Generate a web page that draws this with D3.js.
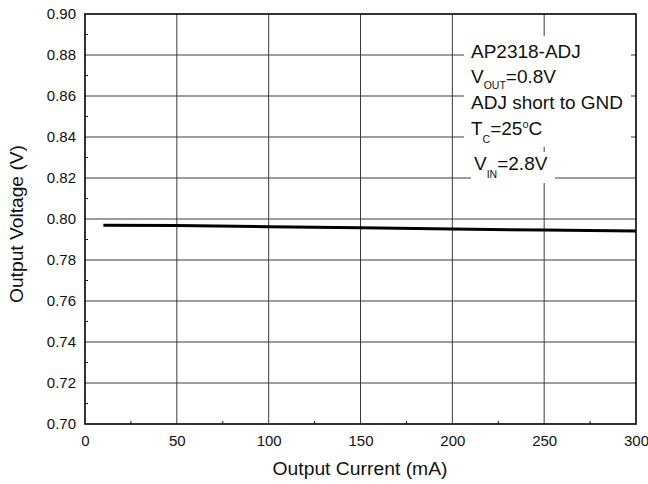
<!DOCTYPE html>
<html>
<head>
<meta charset="utf-8">
<script src="https://cdn.jsdelivr.net/npm/d3@7"></script>
<style>
  html, body { margin: 0; padding: 0; background: #fff; }
  svg { display: block; font-family: "Liberation Sans", Arial, sans-serif; }
</style>
</head>
<body>
<svg id="chart" width="648" height="484"></svg>
<script>
// Output voltage vs load current
const currentMA = [10, 50, 100, 150, 200, 250, 300];
const outputV   = [0.7969, 0.7968, 0.7962, 0.7957, 0.7951, 0.7946, 0.7941];

const xTicks = [0, 50, 100, 150, 200, 250, 300];
const yTicks = [0.70, 0.72, 0.74, 0.76, 0.78, 0.80, 0.82, 0.84, 0.86, 0.88, 0.90];
const xMinor = [25, 75, 125, 175, 225, 275];
const yMinor = [0.71, 0.73, 0.75, 0.77, 0.79, 0.81, 0.83, 0.85, 0.87, 0.89];

const margin = { left: 85, top: 14, right: 12, bottom: 60 };
const W = 648, H = 484;
const svg = d3.select("#chart");

const x = d3.scaleLinear().domain([0, 300]).range([margin.left, W - margin.right]);
const y = d3.scaleLinear().domain([0.70, 0.90]).range([H - margin.bottom, margin.top]);

// grid
const grid = svg.append("g").attr("stroke", "#3a3a3a").attr("stroke-width", 1);
grid.selectAll("line.v").data(xTicks.slice(1, -1)).join("line")
  .attr("x1", d => x(d)).attr("x2", d => x(d))
  .attr("y1", y(0.70)).attr("y2", y(0.90));
grid.selectAll("line.h").data(yTicks.slice(1, -1)).join("line")
  .attr("x1", x(0)).attr("x2", x(300))
  .attr("y1", d => y(d)).attr("y2", d => y(d));

// axes with labels
const xAxis = d3.axisBottom(x).tickValues(xTicks).tickFormat(d3.format("d")).tickSize(0).tickPadding(11);
const yAxis = d3.axisLeft(y).tickValues(yTicks).tickFormat(d3.format(".2f")).tickSize(0).tickPadding(9);

const gx = svg.append("g").attr("transform", `translate(0,${y(0.70)})`).call(xAxis);
const gy = svg.append("g").attr("transform", `translate(${x(0)},0)`).call(yAxis);
[gx, gy].forEach(g => {
  g.select(".domain").remove();
  g.selectAll("text").attr("font-size", 15).attr("fill", "#111")
    .attr("font-family", "'Liberation Sans', Arial, sans-serif");
});

// minor ticks (inward)
svg.append("g").selectAll("line").data(xMinor).join("line")
  .attr("x1", d => x(d)).attr("x2", d => x(d))
  .attr("y1", y(0.70)).attr("y2", y(0.70) - 3)
  .attr("stroke", "#111").attr("stroke-width", 1);
svg.append("g").selectAll("line").data(yMinor).join("line")
  .attr("x1", x(0)).attr("x2", x(0) + 3)
  .attr("y1", d => y(d)).attr("y2", d => y(d))
  .attr("stroke", "#111").attr("stroke-width", 1);

// data curve
const line = d3.line().x((d, i) => x(currentMA[i])).y(d => y(d));
svg.append("path").datum(outputV)
  .attr("d", line).attr("fill", "none")
  .attr("stroke", "#000").attr("stroke-width", 3);

// annotation blocks with white backing
svg.append("rect").attr("x", 464).attr("y", 36).attr("width", 167).attr("height", 111).attr("fill", "#fff");
svg.append("rect").attr("x", 471).attr("y", 152).attr("width", 84).attr("height", 31).attr("fill", "#fff");

const note = svg.append("g").attr("font-size", 19).attr("fill", "#111");
note.append("text").attr("x", 471).attr("y", 58).text("AP2318-ADJ");

const t2 = note.append("text").attr("x", 471).attr("y", 83);
t2.append("tspan").text("V");
t2.append("tspan").attr("font-size", 10.5).attr("dy", 6).text("OUT");
t2.append("tspan").attr("dy", -6).text("=0.8V");

note.append("text").attr("x", 471).attr("y", 109).text("ADJ short to GND");

const t4 = note.append("text").attr("x", 471).attr("y", 135);
t4.append("tspan").text("T");
t4.append("tspan").attr("font-size", 10.5).attr("dy", 8).text("C");
t4.append("tspan").attr("dy", -8).text("=25");
t4.append("tspan").attr("font-size", 11).attr("dy", -7).text("o");
t4.append("tspan").attr("dy", 7).text("C");

const t5 = note.append("text").attr("x", 474).attr("y", 170);
t5.append("tspan").text("V");
t5.append("tspan").attr("font-size", 10.5).attr("dy", 8).text("IN");
t5.append("tspan").attr("dy", -8).text("=2.8V");

// frame
svg.append("rect")
  .attr("x", x(0)).attr("y", y(0.90))
  .attr("width", x(300) - x(0)).attr("height", y(0.70) - y(0.90))
  .attr("fill", "none").attr("stroke", "#000").attr("stroke-width", 1.6);

// axis titles
svg.append("text").attr("x", 360).attr("y", 475)
  .attr("text-anchor", "middle").attr("font-size", 17.5).attr("fill", "#111")
  .attr("textLength", 175).attr("lengthAdjust", "spacingAndGlyphs")
  .text("Output Current (mA)");
svg.append("text")
  .attr("transform", "translate(23,224) rotate(-90)")
  .attr("text-anchor", "middle").attr("font-size", 17.5).attr("fill", "#111")
  .attr("textLength", 158).attr("lengthAdjust", "spacingAndGlyphs")
  .text("Output Voltage (V)");
</script>
</body>
</html>
